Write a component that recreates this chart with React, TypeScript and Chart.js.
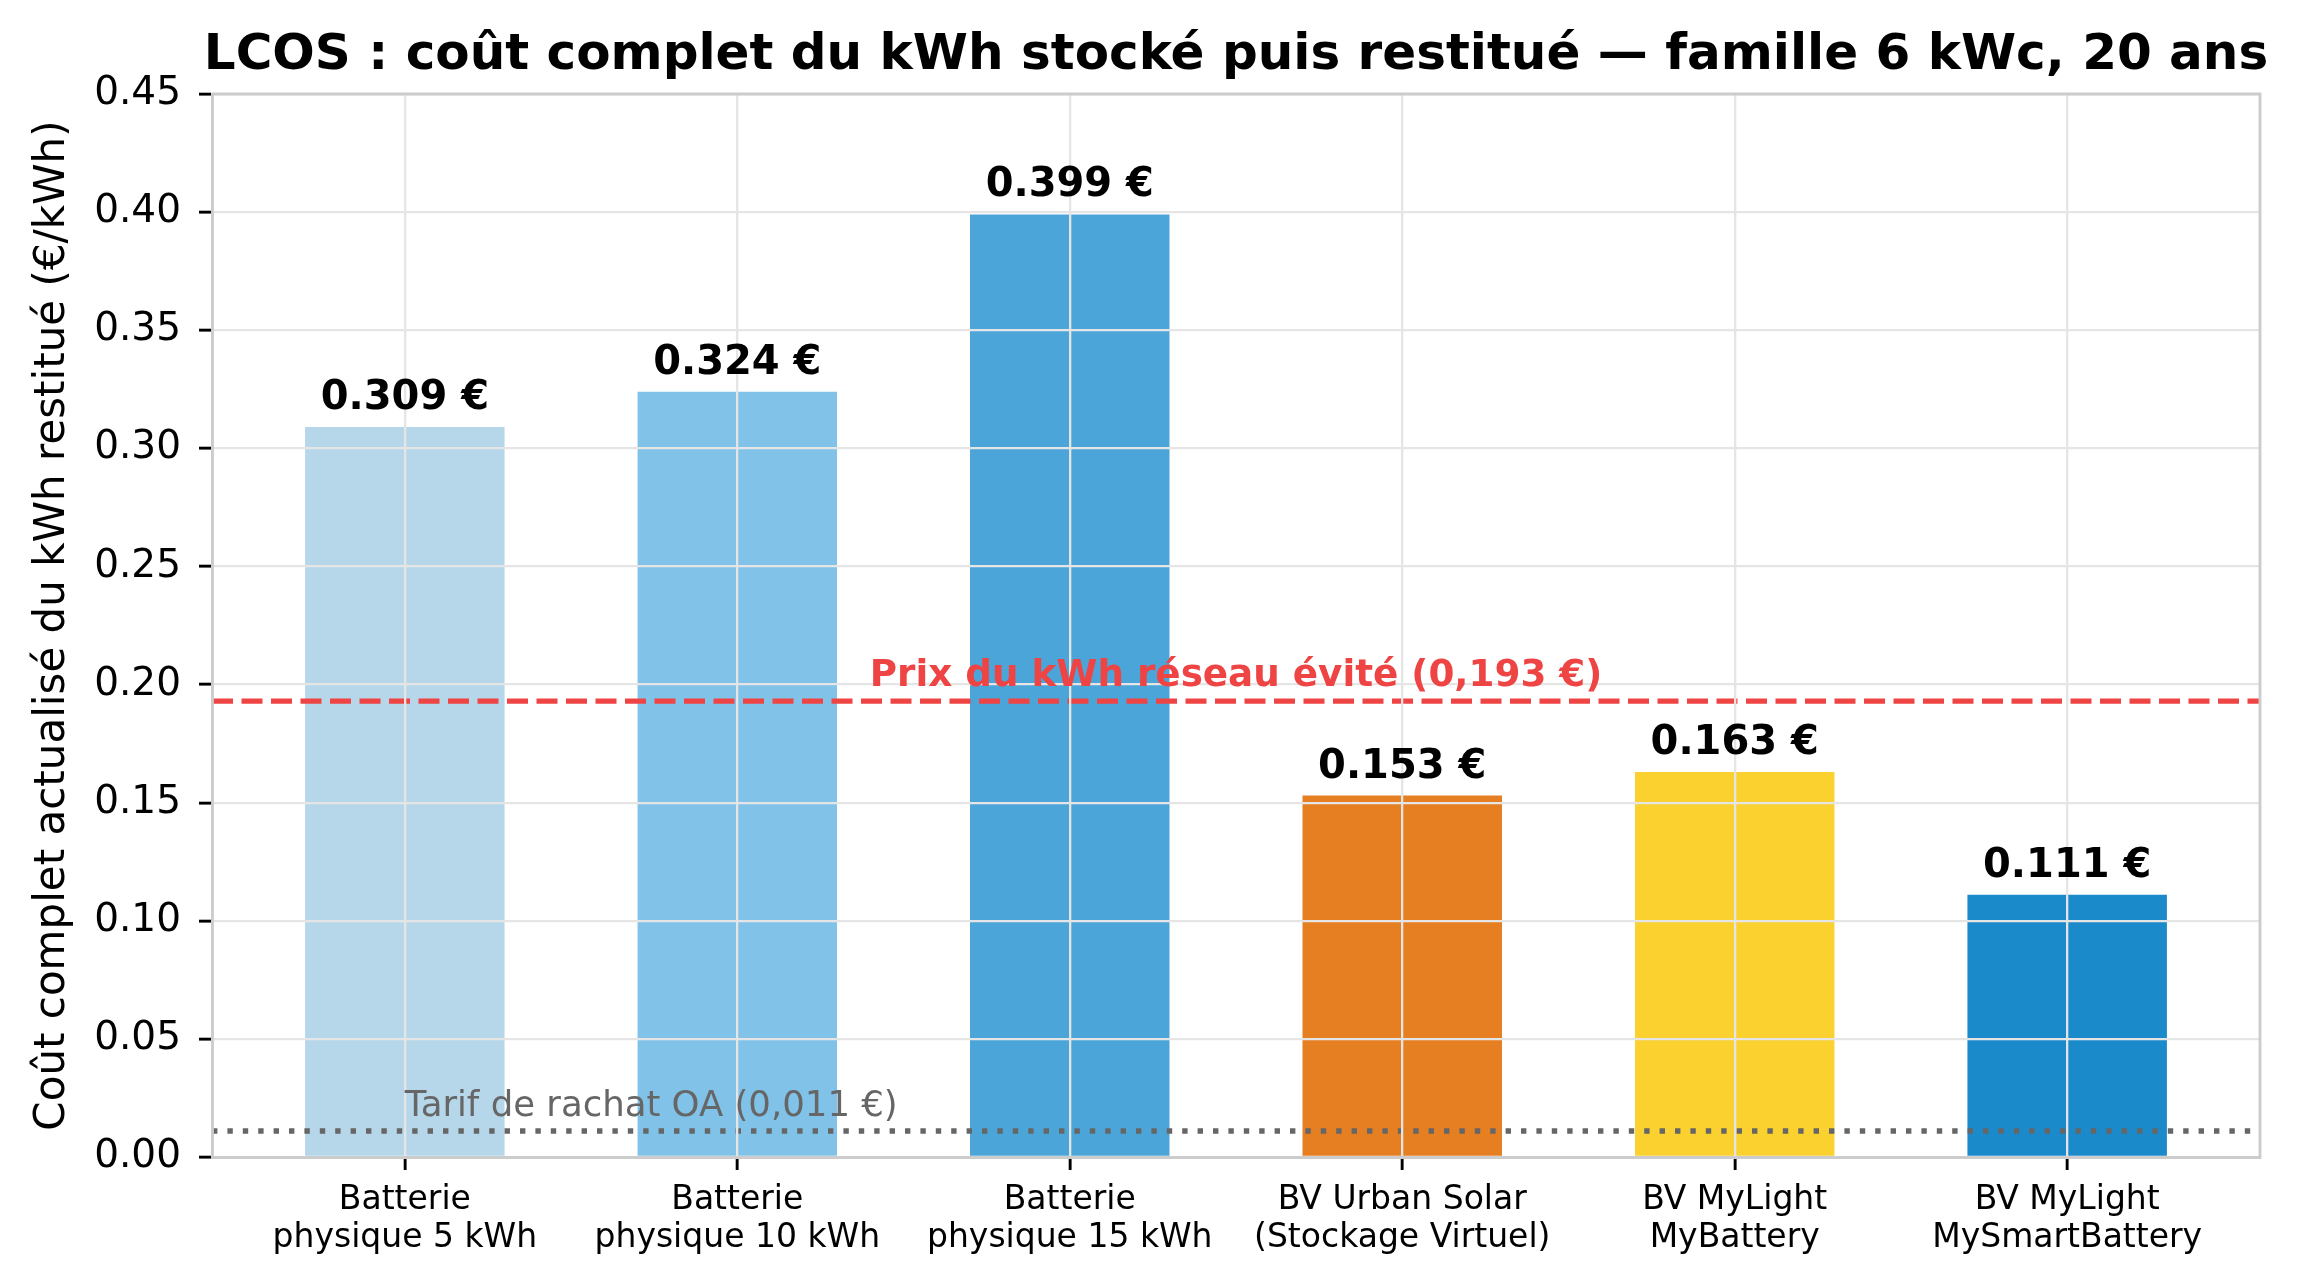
import React, { useEffect, useRef } from "react";
import { Chart, registerables } from "chart.js";

Chart.register(...registerables);

const categories: string[] = [
  "Batterie\nphysique 5 kWh",
  "Batterie\nphysique 10 kWh",
  "Batterie\nphysique 15 kWh",
  "BV Urban Solar\n(Stockage Virtuel)",
  "BV MyLight\nMyBattery",
  "BV MyLight\nMySmartBattery",
];
const lcosValues: number[] = [0.309, 0.324, 0.399, 0.153, 0.163, 0.111];
const barColors: string[] = ["#b6d7ea", "#80c2e8", "#4ba5d8", "#e67e22", "#fad12f", "#1b8acb"];
const yTicks: number[] = [0, 0.05, 0.1, 0.15, 0.2, 0.25, 0.3, 0.35, 0.4, 0.45];
const gridPrice = 0.193;
const gridPriceLabel = "Prix du kWh réseau évité (0,193 €)";
const feedInTariff = 0.011;
const feedInLabel = "Tarif de rachat OA (0,011 €)";
const titleText = "LCOS : coût complet du kWh stocké puis restitué — famille 6 kWc, 20 ans";
const yAxisTitle = "Coût complet actualisé du kWh restitué (€/kWh)";

const FONT = "'DejaVu Sans', 'Liberation Sans', sans-serif";
const BAR_W = 0.6;

export default function App() {
  const ref = useRef<HTMLCanvasElement | null>(null);

  useEffect(() => {
    document.body.style.margin = "0";
    const canvas = ref.current;
    if (!canvas) return;
    const n = categories.length;
    const span = n - 1 + BAR_W;
    const xMin = -BAR_W / 2 - 0.05 * span;
    const xMax = n - 1 + BAR_W / 2 + 0.05 * span;

    const overlay = {
      id: "overlay",
      afterDraw(chart: any) {
        const ctx = chart.ctx as CanvasRenderingContext2D;
        const area = chart.chartArea;
        const xs = chart.scales.x;
        const ys = chart.scales.y;
        ctx.save();
        // top & right spines
        ctx.strokeStyle = "#cccccc";
        ctx.lineWidth = 2.9;
        ctx.beginPath();
        ctx.moveTo(area.left, area.top);
        ctx.lineTo(area.right, area.top);
        ctx.lineTo(area.right, area.bottom);
        ctx.stroke();

        // title
        ctx.fillStyle = "#000";
        ctx.font = `bold 50px ${FONT}`;
        ctx.textAlign = "center";
        ctx.textBaseline = "alphabetic";
        ctx.fillText(titleText, (area.left + area.right) / 2, 69);

        // y axis title
        ctx.save();
        ctx.translate(64, (area.top + area.bottom) / 2);
        ctx.rotate(-Math.PI / 2);
        ctx.font = `42px ${FONT}`;
        ctx.textAlign = "center";
        ctx.fillText(yAxisTitle, 0, 0);
        ctx.restore();

        // value labels
        ctx.font = `bold 40px ${FONT}`;
        ctx.textAlign = "center";
        lcosValues.forEach((v, i) => {
          ctx.fillText(`${v.toFixed(3)} €`, xs.getPixelForValue(i), ys.getPixelForValue(v) - 18);
        });

        // reference line annotations
        ctx.fillStyle = "#ef4444";
        ctx.font = `bold 37.3px ${FONT}`;
        ctx.textAlign = "center";
        ctx.fillText(gridPriceLabel, xs.getPixelForValue((n - 1) / 2), ys.getPixelForValue(gridPrice) - 15);

        ctx.fillStyle = "#666666";
        ctx.font = `35.5px ${FONT}`;
        ctx.textAlign = "left";
        ctx.fillText(feedInLabel, xs.getPixelForValue(0), ys.getPixelForValue(feedInTariff) - 15);
        ctx.restore();
      },
    };

    const chart = new Chart(canvas, {
      type: "bar",
      data: {
        datasets: [
          {
            type: "line",
            data: [
              { x: xMin, y: gridPrice },
              { x: xMax, y: gridPrice },
            ],
            borderColor: "#ef4444",
            borderWidth: 5.4,
            borderDash: [21, 8.5],
            pointRadius: 0,
            order: 1,
          } as any,
          {
            type: "line",
            data: [
              { x: xMin, y: feedInTariff },
              { x: xMax, y: feedInTariff },
            ],
            borderColor: "#666666",
            borderWidth: 5.4,
            borderDash: [5.4, 10],
            pointRadius: 0,
            order: 1,
          } as any,
          {
            type: "bar",
            data: lcosValues.map((v, i) => ({ x: i, y: v })),
            backgroundColor: barColors,
            borderWidth: 0,
            categoryPercentage: 1,
            barPercentage: BAR_W,
            order: 2,
          } as any,
        ],
      },
      options: {
        responsive: false,
        animation: false,
        devicePixelRatio: 1,
        layout: { padding: { top: 94, right: 37, bottom: 0, left: 0 } },
        plugins: { legend: { display: false }, tooltip: { enabled: false }, title: { display: false } },
        scales: {
          x: {
            type: "linear",
            min: xMin,
            max: xMax,
            offset: false,
            afterBuildTicks: (s: any) => {
              s.ticks = categories.map((_, i) => ({ value: i }));
            },
            afterFit: (s: any) => {
              s.height = 130;
            },
            ticks: {
              autoSkip: false,
              maxRotation: 0,
              minRotation: 0,
              padding: 11,
              color: "#000",
              font: { family: FONT, size: 33, lineHeight: 1.15 },
              callback: (v: any) => {
                const c = categories[Math.round(Number(v))];
                return c ? c.split("\n") : "";
              },
            },
            grid: {
              offset: false,
              color: "#e5e5e5",
              lineWidth: 2.3,
              tickColor: "#000",
              tickWidth: 2.9,
              tickLength: 13,
              z: 1,
            },
            border: { display: true, color: "#cccccc", width: 2.9, z: 2 },
          },
          y: {
            type: "linear",
            min: 0,
            max: 0.45,
            afterBuildTicks: (s: any) => {
              s.ticks = yTicks.map((v) => ({ value: v }));
            },
            afterFit: (s: any) => {
              s.width = 212;
            },
            ticks: {
              padding: 18,
              color: "#000",
              font: { family: FONT, size: 39 },
              callback: (v: any) => Number(v).toFixed(2),
            },
            grid: {
              color: "#e5e5e5",
              lineWidth: 2.3,
              tickColor: "#000",
              tickWidth: 2.9,
              tickLength: 13,
              z: 1,
            },
            border: { display: true, color: "#cccccc", width: 2.9, z: 2 },
          },
        },
      } as any,
      plugins: [overlay],
    });

    return () => chart.destroy();
  }, []);

  return (
    <canvas
      ref={ref}
      width={2297}
      height={1287}
      style={{ position: "absolute", left: 0, top: 0, width: 2297, height: 1287, background: "#fff" }}
    />
  );
}
